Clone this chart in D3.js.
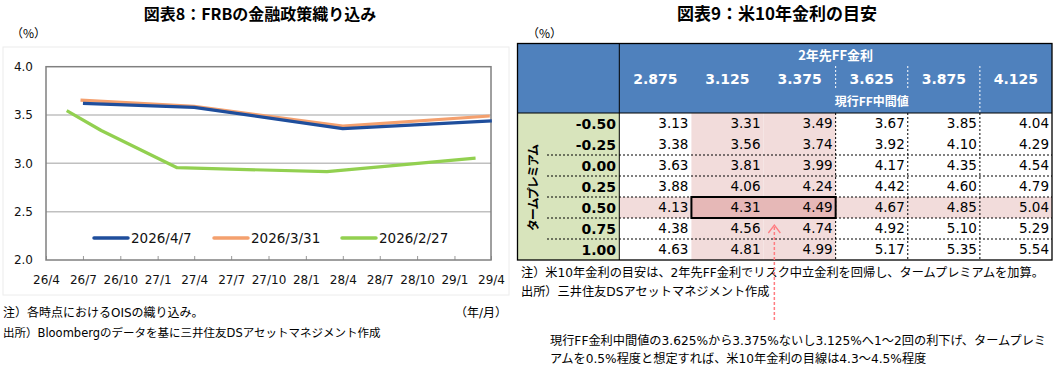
<!DOCTYPE html>
<html>
<head>
<meta charset="utf-8">
<script src="https://cdn.jsdelivr.net/npm/d3@7"></script>
<style>
  body { margin: 0; background: #fff; }
  svg text { font-family: "DejaVu Sans", "Noto Sans CJK JP", sans-serif; }
  .jp { font-family: "Noto Sans CJK JP", sans-serif; }
</style>
</head>
<body>
<div id="chart"></div>
<script>
// ---- left chart data (FRB policy path priced by OIS)
var seriesNames = ["2026/4/7", "2026/3/31", "2026/2/27"];
var seriesColors = ["#1f4e9c", "#f4a06e", "#92d050"];
var datesApr7 = ["2026-07-01", "2027-04-01", "2028-04-01", "2029-04-03"];
var ratesApr7 = [3.62, 3.58, 3.36, 3.44];
var datesMar31 = ["2026-06-25", "2027-04-01", "2028-04-01", "2029-03-29"];
var ratesMar31 = [3.655, 3.59, 3.385, 3.49];
var datesFeb27 = ["2026-05-22", "2026-08-15", "2027-02-18", "2028-02-22", "2029-02-22"];
var ratesFeb27 = [3.545, 3.34, 2.955, 2.914, 3.055];
var yTicks = [2.0, 2.5, 3.0, 3.5, 4.0];

// ---- right table data (10y yield guide)
var ffRates = ["2.875", "3.125", "3.375", "3.625", "3.875", "4.125"];
var termPremia = ["-0.50", "-0.25", "0.00", "0.25", "0.50", "0.75", "1.00"];
var yieldGrid = [
  [3.13, 3.31, 3.49, 3.67, 3.85, 4.04],
  [3.38, 3.56, 3.74, 3.92, 4.10, 4.29],
  [3.63, 3.81, 3.99, 4.17, 4.35, 4.54],
  [3.88, 4.06, 4.24, 4.42, 4.60, 4.79],
  [4.13, 4.31, 4.49, 4.67, 4.85, 5.04],
  [4.38, 4.56, 4.74, 4.92, 5.10, 5.29],
  [4.63, 4.81, 4.99, 5.17, 5.35, 5.54]
];
var pinkCols = ["3.125", "3.375"];
var pinkRow = "0.50";
var currentMid = "3.625";

var svg = d3.select("#chart").append("svg")
    .attr("width", 1054)
    .attr("height", 365);

// =================== left: line chart ===================
var parse = d3.timeParse("%Y-%m-%d");
var plotL = 46, plotR = 491, plotT = 66.7, plotB = 260;

svg.append("rect")
    .attr("x", 3).attr("y", 47).attr("width", 506).attr("height", 248)
    .attr("fill", "#fff").attr("stroke", "#ececec");

svg.append("text").attr("class", "jp")
    .attr("x", 260).attr("y", 20).attr("text-anchor", "middle")
    .attr("font-size", 16).attr("font-weight", "bold")
    .text("図表8：FRBの金融政策織り込み");

svg.append("text").attr("class", "jp")
    .attr("x", 11).attr("y", 38).attr("font-size", 12)
    .text("（%）");

var x = d3.scaleTime()
    .domain([parse("2026-04-01"), parse("2029-04-01")])
    .range([plotL, plotR]);
var y = d3.scaleLinear()
    .domain([2, 4])
    .range([plotB, plotT]);

// gridlines
svg.append("g").selectAll("line")
    .data([2.5, 3.0, 3.5])
    .enter().append("line")
      .attr("x1", plotL).attr("x2", plotR)
      .attr("y1", function(d) { return y(d); })
      .attr("y2", function(d) { return y(d); })
      .attr("stroke", "#c0c0c0").attr("stroke-width", 1.5);

// y axis
var yAxis = svg.append("g")
    .attr("transform", "translate(" + plotL + ",0)")
    .call(d3.axisLeft(y).tickValues(yTicks).tickFormat(d3.format(".1f")).tickSize(0).tickPadding(13));
yAxis.select(".domain").remove();
yAxis.selectAll("text").attr("font-size", 12).attr("fill", "#111");

// x axis, ticks pointing up into the plot
var xAxis = svg.append("g")
    .attr("transform", "translate(0," + plotB + ")")
    .call(d3.axisBottom(x)
        .ticks(d3.timeMonth.every(3))
        .tickFormat(d3.timeFormat("%y/%-m"))
        .tickSizeInner(-4).tickSizeOuter(0).tickPadding(15));
xAxis.select(".domain").remove();
xAxis.selectAll("line").attr("stroke", "#999");
xAxis.selectAll("text").attr("font-size", 12).attr("fill", "#111");

// plot border
svg.append("rect")
    .attr("x", plotL).attr("y", plotT)
    .attr("width", plotR - plotL).attr("height", plotB - plotT)
    .attr("fill", "none").attr("stroke", "#808080").attr("stroke-width", 1.5);

var allSeries = [
  { dates: datesApr7, rates: ratesApr7 },
  { dates: datesMar31, rates: ratesMar31 },
  { dates: datesFeb27, rates: ratesFeb27 }
];
var line = d3.line()
    .x(function(d) { return x(d[0]); })
    .y(function(d) { return y(d[1]); });

// draw green first, then orange, then blue on top
[2, 1, 0].forEach(function(i) {
  var pts = allSeries[i].dates.map(function(d, j) { return [parse(d), allSeries[i].rates[j]]; });
  svg.append("path")
      .attr("d", line(pts))
      .attr("fill", "none")
      .attr("stroke", seriesColors[i])
      .attr("stroke-width", 3.2)
      .attr("stroke-linejoin", "round");
});

// legend
var legendX = [94, 214, 342];
var legend = svg.append("g").selectAll("g")
    .data(seriesNames)
    .enter().append("g")
      .attr("transform", function(d, i) { return "translate(" + legendX[i] + ",238)"; });
legend.append("line")
    .attr("x1", 0).attr("x2", 34)
    .attr("stroke", function(d, i) { return seriesColors[i]; })
    .attr("stroke-width", 3.5).attr("stroke-linecap", "round");
legend.append("text")
    .attr("x", 37).attr("dy", "0.36em")
    .attr("font-size", 13.5).attr("fill", "#111")
    .text(function(d) { return d; });

// notes
svg.append("text").attr("x", 3).attr("y", 317).attr("font-size", 12)
    .text("注）各時点におけるOISの織り込み。");
svg.append("text").attr("x", 507).attr("y", 317).attr("font-size", 12)
    .attr("text-anchor", "end").text("（年/月）");
svg.append("text").attr("x", 3).attr("y", 337).attr("font-size", 11.5)
    .text("出所）Bloombergのデータを基に三井住友DSアセットマネジメント作成");

// =================== right: table ===================
var tx0 = 517.5, tx1 = 1052, ty0 = 43.5, tyHead = 113, ty1 = 260, labelRight = 619.3;

svg.append("text").attr("class", "jp")
    .attr("x", 777).attr("y", 20).attr("text-anchor", "middle")
    .attr("font-size", 17).attr("font-weight", "bold")
    .text("図表9：米10年金利の目安");
svg.append("text").attr("class", "jp")
    .attr("x", 527).attr("y", 38).attr("font-size", 12)
    .text("（%）");

var col = d3.scaleBand().domain(ffRates).range([labelRight, tx1]);
var row = d3.scaleBand().domain(termPremia).range([tyHead, ty1]);

// backgrounds
svg.append("rect").attr("x", tx0).attr("y", ty0).attr("width", tx1 - tx0).attr("height", tyHead - ty0)
    .attr("fill", "#4f81bd");
svg.append("rect").attr("x", tx0).attr("y", tyHead).attr("width", labelRight - tx0).attr("height", ty1 - tyHead)
    .attr("fill", "#d8e4bc");
svg.append("rect").attr("x", labelRight).attr("y", row(pinkRow)).attr("width", tx1 - labelRight).attr("height", row.bandwidth())
    .attr("fill", "#f2dcdb");
svg.append("g").selectAll("rect")
    .data(pinkCols)
    .enter().append("rect")
      .attr("x", function(d) { return col(d); })
      .attr("y", tyHead)
      .attr("width", col.bandwidth())
      .attr("height", ty1 - tyHead)
      .attr("fill", "#f2dcdb");
svg.append("rect")
    .attr("x", col(pinkCols[0])).attr("y", row(pinkRow))
    .attr("width", col.bandwidth() * 2).attr("height", row.bandwidth())
    .attr("fill", "#e6b8b7");

// header text
svg.append("text").attr("class", "jp")
    .attr("x", (labelRight + tx1) / 2).attr("y", 55.5).attr("dy", "0.35em")
    .attr("text-anchor", "middle").attr("font-size", 13).attr("font-weight", "bold").attr("fill", "#fff")
    .text("2年先FF金利");
svg.append("g").selectAll("text")
    .data(ffRates)
    .enter().append("text")
      .attr("x", function(d) { return col(d) + col.bandwidth() / 2; })
      .attr("y", 79).attr("dy", "0.35em")
      .attr("text-anchor", "middle").attr("font-size", 14).attr("font-weight", "bold").attr("fill", "#fff")
      .text(function(d) { return d; });
svg.append("text").attr("class", "jp")
    .attr("x", col(currentMid) + col.bandwidth() / 2).attr("y", 101.5).attr("dy", "0.35em")
    .attr("text-anchor", "middle").attr("font-size", 12).attr("font-weight", "bold").attr("fill", "#fff")
    .text("現行FF中間値");

// header white dashes
var dashCols = ["3.625", "3.875", "4.125"];
svg.append("g").selectAll("line")
    .data(dashCols)
    .enter().append("line")
      .attr("x1", function(d) { return col(d); })
      .attr("x2", function(d) { return col(d); })
      .attr("y1", 66)
      .attr("y2", function(d) { return d === "4.125" ? tyHead : 90; })
      .attr("stroke", "#fff").attr("stroke-dasharray", "2,2");

// body dashed grid
svg.append("g").selectAll("line")
    .data(dashCols)
    .enter().append("line")
      .attr("x1", function(d) { return col(d); })
      .attr("x2", function(d) { return col(d); })
      .attr("y1", tyHead).attr("y2", ty1)
      .attr("stroke", "#000").attr("stroke-dasharray", "2,2");
svg.append("g").selectAll("line")
    .data(termPremia.slice(2))
    .enter().append("line")
      .attr("x1", 547).attr("x2", tx1)
      .attr("y1", function(d) { return row(d); })
      .attr("y2", function(d) { return row(d); })
      .attr("stroke", "#000").attr("stroke-dasharray", "2,2");

// highlight border on top of dashes
svg.append("rect")
    .attr("x", col(pinkCols[0])).attr("y", row(pinkRow))
    .attr("width", col.bandwidth() * 2).attr("height", row.bandwidth())
    .attr("fill", "none").attr("stroke", "#000").attr("stroke-width", 2);

// row labels
svg.append("g").selectAll("text")
    .data(termPremia)
    .enter().append("text")
      .attr("x", 616)
      .attr("y", function(d) { return row(d) + row.bandwidth() / 2; })
      .attr("dy", "0.36em")
      .attr("text-anchor", "end").attr("font-size", 14).attr("font-weight", "bold").attr("fill", "#000")
      .text(function(d) { return d; });

svg.append("text").attr("class", "jp")
    .attr("transform", "translate(538,188) rotate(-90)")
    .attr("text-anchor", "middle").attr("font-size", 12).attr("font-weight", "bold")
    .attr("letter-spacing", -1)
    .text("タームプレミアム");

// cell values
var rows = svg.append("g").selectAll("g")
    .data(yieldGrid)
    .enter().append("g")
      .attr("transform", function(d, i) { return "translate(0," + (row(termPremia[i]) + row.bandwidth() / 2) + ")"; });
rows.selectAll("text")
    .data(function(d) { return d; })
    .enter().append("text")
      .attr("x", function(d, j) { return col(ffRates[j]) + col.bandwidth() - 3; })
      .attr("dy", "0.36em")
      .attr("text-anchor", "end").attr("font-size", 13.5).attr("fill", "#000")
      .text(function(d) { return d3.format(".2f")(d); });

// table frame
svg.append("line").attr("x1", labelRight).attr("x2", labelRight).attr("y1", ty0).attr("y2", ty1)
    .attr("stroke", "#000");
svg.append("line").attr("x1", tx0).attr("x2", tx1).attr("y1", tyHead).attr("y2", tyHead)
    .attr("stroke", "#000");
svg.append("rect").attr("x", tx0).attr("y", ty0).attr("width", tx1 - tx0).attr("height", ty1 - ty0)
    .attr("fill", "none").attr("stroke", "#000").attr("stroke-width", 1.3);

// notes
svg.append("text").attr("x", 521).attr("y", 277).attr("font-size", 12.2)
    .text("注）米10年金利の目安は、2年先FF金利でリスク中立金利を回帰し、タームプレミアムを加算。");
svg.append("text").attr("x", 521).attr("y", 296).attr("font-size", 12.2)
    .text("出所）三井住友DSアセットマネジメント作成");

// arrow
var arrowX = col("3.125") + col.bandwidth() * 1.15;
svg.append("line")
    .attr("x1", arrowX).attr("x2", arrowX).attr("y1", 227).attr("y2", 321)
    .attr("stroke", "#ff7c80").attr("stroke-width", 1.5).attr("stroke-dasharray", "3,2");
svg.append("path")
    .attr("d", "M" + (arrowX - 6) + ",233L" + arrowX + ",225L" + (arrowX + 6) + ",233")
    .attr("fill", "none").attr("stroke", "#ff7c80").attr("stroke-width", 1.3);

svg.append("text").attr("x", 550).attr("y", 345).attr("font-size", 12.2)
    .text("現行FF金利中間値の3.625%から3.375%ないし3.125%へ1～2回の利下げ、タームプレミ");
svg.append("text").attr("x", 550).attr("y", 363).attr("font-size", 12.2)
    .text("アムを0.5%程度と想定すれば、米10年金利の目線は4.3～4.5%程度");
</script>
</body>
</html>
